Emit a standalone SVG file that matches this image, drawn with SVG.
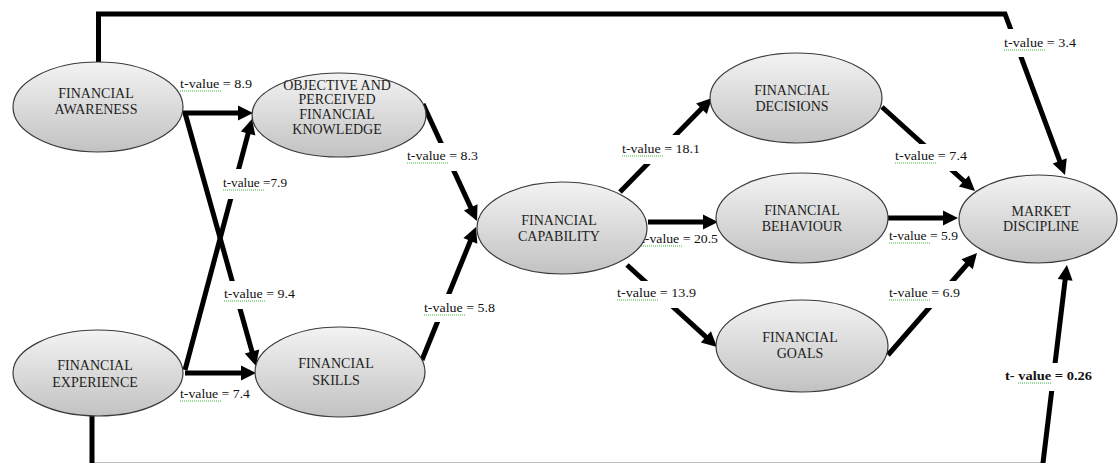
<svg xmlns="http://www.w3.org/2000/svg" width="1118" height="463" viewBox="0 0 1118 463">
<style>
.edge{fill:none;stroke:#000;stroke-width:5;stroke-linejoin:miter;marker-end:url(#ah)}
.plain{fill:none;stroke:#000;stroke-width:5;stroke-linejoin:miter}
.node ellipse{fill:url(#g);stroke:#3a3a3a;stroke-width:1.2}
.node text{font-family:"Liberation Serif","Times New Roman",serif;font-size:14px;fill:#1e1e1e;text-anchor:middle}
.lbl text{font-family:"Liberation Serif","Times New Roman",serif;font-size:12.5px;fill:#111}
.lbl rect{fill:#fff}
.sq{fill:none;stroke:#3cb43c;stroke-width:1.2;stroke-dasharray:1 1}
</style>
<defs>
<linearGradient id="g" x1="0" y1="0" x2="0" y2="1">
<stop offset="0" stop-color="#f3f3f3"/>
<stop offset="1" stop-color="#c2c2c2"/>
</linearGradient>
<marker id="ah" markerUnits="userSpaceOnUse" markerWidth="15" markerHeight="15" refX="3" refY="7.5" orient="auto" overflow="visible">
<path d="M0,0 L15,7.5 L0,15 Z" fill="#000"/>
</marker>
</defs>
<rect width="1118" height="463" fill="#fff"/>
<g id="connectors">
<path class="edge" d="M183,113 L241,113"/>
<path class="edge" d="M185,113 L252.8,354.4"/>
<path class="edge" d="M185,370 L248.9,130.6"/>
<path class="edge" d="M185,373 L244,373"/>
<path class="edge" d="M423,104 L472,210.1"/>
<path class="edge" d="M422,360 L471.5,238.1"/>
<path class="edge" d="M620,192 L703.6,106.6"/>
<path class="edge" d="M648,222 L706,222"/>
<path class="edge" d="M627,265 L708.1,338.9"/>
<path class="edge" d="M882,107 L966.1,183"/>
<path class="edge" d="M888,218 L946,218"/>
<path class="edge" d="M888,355 L969.1,262"/>
<path class="edge" d="M98.5,64 L98.5,14 L1005,14 L1060.8,163.8"/>
<path class="edge" d="M92,415 L92,465.3 L1042.7,465.3 L1065.5,276.9"/>
</g>
<g id="labels" class="lbl">
<text x="180" y="88" textLength="72" lengthAdjust="spacingAndGlyphs">t-value = 8.9</text>
<path class="sq" d="M180,91 H222"/>
<rect x="220" y="169" width="70" height="30"/>
<text x="223" y="187" textLength="64" lengthAdjust="spacingAndGlyphs">t-value =7.9</text>
<path class="sq" d="M223,190 H265"/>
<rect x="222" y="281" width="75" height="28"/>
<text x="224" y="298" textLength="71" lengthAdjust="spacingAndGlyphs">t-value = 9.4</text>
<path class="sq" d="M224,301 H266"/>
<text x="180" y="398" textLength="70" lengthAdjust="spacingAndGlyphs">t-value = 7.4</text>
<path class="sq" d="M180,401 H221"/>
<rect x="405" y="143" width="75" height="28"/>
<text x="407" y="160" textLength="71" lengthAdjust="spacingAndGlyphs">t-value = 8.3</text>
<path class="sq" d="M407,163 H449"/>
<rect x="422" y="294" width="75" height="28"/>
<text x="424" y="312" textLength="71" lengthAdjust="spacingAndGlyphs">t-value = 5.8</text>
<path class="sq" d="M424,315 H466"/>
<rect x="620" y="135" width="82" height="29"/>
<text x="622" y="153" textLength="78" lengthAdjust="spacingAndGlyphs">t-value = 18.1</text>
<path class="sq" d="M622,156 H664"/>
<text x="641" y="243" textLength="77" lengthAdjust="spacingAndGlyphs">t-value = 20.5</text>
<path class="sq" d="M641,246 H683"/>
<rect x="615" y="281" width="83" height="27"/>
<text x="617" y="297" textLength="79" lengthAdjust="spacingAndGlyphs">t-value = 13.9</text>
<path class="sq" d="M617,300 H659"/>
<rect x="893" y="144" width="76" height="27"/>
<text x="895" y="160" textLength="72" lengthAdjust="spacingAndGlyphs">t-value = 7.4</text>
<path class="sq" d="M895,163 H937"/>
<rect x="1002" y="29" width="76" height="28"/>
<text x="1004" y="47" textLength="72" lengthAdjust="spacingAndGlyphs">t-value = 3.4</text>
<path class="sq" d="M1004,50 H1046"/>
<text x="889" y="240" textLength="69" lengthAdjust="spacingAndGlyphs">t-value = 5.9</text>
<path class="sq" d="M889,243 H930"/>
<rect x="887" y="281" width="75" height="27"/>
<text x="889" y="297" textLength="71" lengthAdjust="spacingAndGlyphs">t-value = 6.9</text>
<path class="sq" d="M889,300 H931"/>
<rect x="1003" y="363" width="91" height="28"/>
<text x="1005" y="380" textLength="87" lengthAdjust="spacingAndGlyphs" font-weight="bold">t- value = 0.26</text>
<path class="sq" d="M1018,383 H1052"/>
</g>
<g id="n-awareness" class="node">
<ellipse cx="98" cy="107" rx="85" ry="45"/>
<text x="96" y="98">FINANCIAL</text>
<text x="96" y="114">AWARENESS</text>
</g>
<g id="n-knowledge" class="node">
<ellipse cx="339" cy="115" rx="87" ry="42"/>
<text x="337" y="90">OBJECTIVE AND</text>
<text x="337" y="104">PERCEIVED</text>
<text x="337" y="119">FINANCIAL</text>
<text x="337" y="134">KNOWLEDGE</text>
</g>
<g id="n-experience" class="node">
<ellipse cx="98" cy="373" rx="85" ry="43"/>
<text x="95" y="370">FINANCIAL</text>
<text x="95" y="387">EXPERIENCE</text>
</g>
<g id="n-skills" class="node">
<ellipse cx="340" cy="372" rx="85" ry="45"/>
<text x="336" y="368">FINANCIAL</text>
<text x="336" y="385">SKILLS</text>
</g>
<g id="n-capability" class="node">
<ellipse cx="562" cy="228" rx="85" ry="46"/>
<text x="559" y="225">FINANCIAL</text>
<text x="559" y="241">CAPABILITY</text>
</g>
<g id="n-decisions" class="node">
<ellipse cx="796" cy="98" rx="86" ry="45"/>
<text x="792" y="95">FINANCIAL</text>
<text x="792" y="111">DECISIONS</text>
</g>
<g id="n-behaviour" class="node">
<ellipse cx="802" cy="218" rx="86" ry="45"/>
<text x="802" y="215">FINANCIAL</text>
<text x="802" y="231">BEHAVIOUR</text>
</g>
<g id="n-goals" class="node">
<ellipse cx="802" cy="346" rx="86" ry="46"/>
<text x="800" y="342">FINANCIAL</text>
<text x="800" y="358">GOALS</text>
</g>
<g id="n-market" class="node">
<ellipse cx="1038" cy="219" rx="79" ry="44"/>
<text x="1041" y="216">MARKET</text>
<text x="1041" y="231">DISCIPLINE</text>
</g>
</svg>
